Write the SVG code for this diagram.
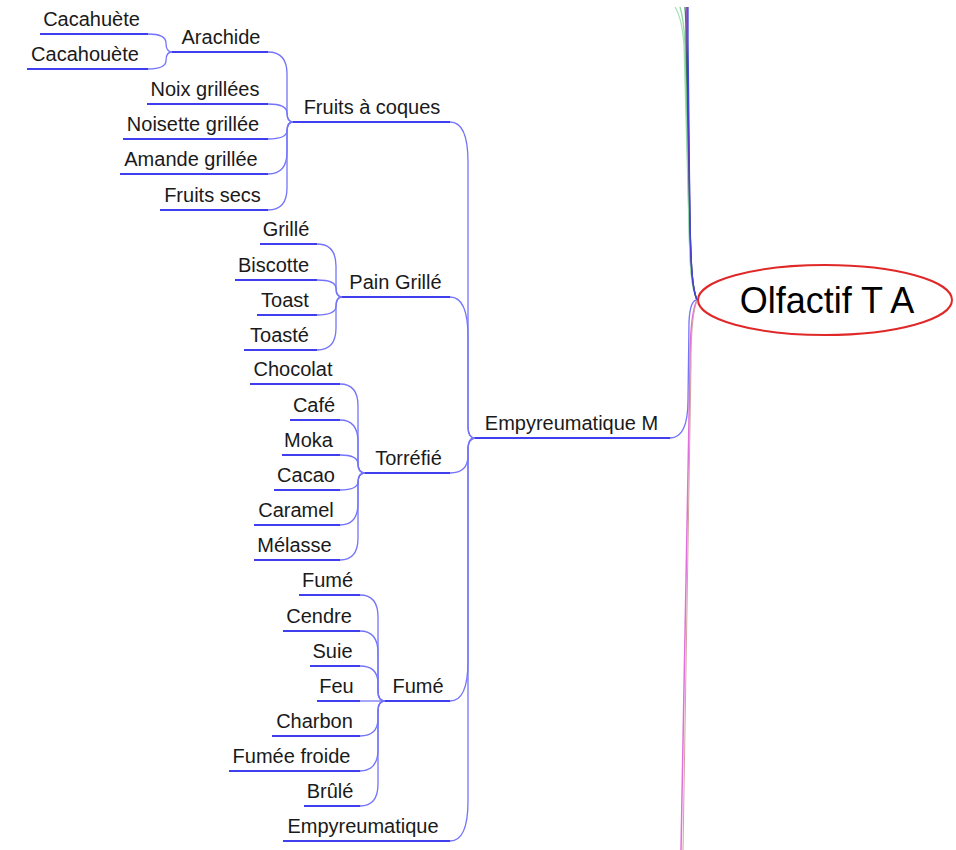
<svg xmlns="http://www.w3.org/2000/svg" width="956" height="850" viewBox="0 0 956 850">
<style>
.bg{fill:#ffffff}
.ul{stroke:#3f3ff0;stroke-width:2;fill:none}
.cv{stroke:#7474fa;stroke-width:1.3;fill:none}
text{font-family:"Liberation Sans",Arial,sans-serif;font-size:20px;fill:#1a1a1a;text-anchor:middle}
.root{font-size:36px;fill:#000}
</style>
<rect class="bg" x="0" y="0" width="956" height="850"/>
<g id="connectors">
  <!-- Arachide children -->
  <path class="cv" d="M148,34 Q166,34 166,43 Q166,52 172,52"/>
  <path class="cv" d="M148,69 Q166,69 166,60.5 Q166,52 172,52"/>
  <!-- Fruits à coques children -->
  <path class="cv" d="M268,52 Q287,52 287,74 L287,112 Q287,122 293,122"/>
  <path class="cv" d="M268,104 Q287,104 287,113 Q287,122 293,122"/>
  <path class="cv" d="M268,139 Q287,139 287,130.5 Q287,122 293,122"/>
  <path class="cv" d="M268,174 Q287,174 287,152 L287,132 Q287,122 293,122"/>
  <path class="cv" d="M268,210 Q287,210 287,188 L287,132 Q287,122 293,122"/>
  <!-- Pain Grillé children -->
  <path class="cv" d="M317,244 Q336,244 336,266 L336,287 Q336,297 342,297"/>
  <path class="cv" d="M317,280 Q336,280 336,288.5 Q336,297 342,297"/>
  <path class="cv" d="M317,315 Q336,315 336,306 Q336,297 342,297"/>
  <path class="cv" d="M317,350 Q336,350 336,328 L336,307 Q336,297 342,297"/>
  <!-- Torréfié children -->
  <path class="cv" d="M340,384 Q358,384 358,406 L358,463 Q358,473 365,473"/>
  <path class="cv" d="M340,420 Q358,420 358,442 L358,463 Q358,473 365,473"/>
  <path class="cv" d="M340,455 Q358,455 358,464 Q358,473 365,473"/>
  <path class="cv" d="M340,490 Q358,490 358,481.5 Q358,473 365,473"/>
  <path class="cv" d="M340,525 Q358,525 358,503 L358,483 Q358,473 365,473"/>
  <path class="cv" d="M340,560 Q358,560 358,538 L358,483 Q358,473 365,473"/>
  <!-- Fumé children -->
  <path class="cv" d="M360,595 Q378,595 378,617 L378,691 Q378,701 385,701"/>
  <path class="cv" d="M360,631 Q378,631 378,653 L378,691 Q378,701 385,701"/>
  <path class="cv" d="M360,666 Q378,666 378,683.5 L378,691 Q378,701 385,701"/>
  <path class="cv" d="M360,701 L385,701"/>
  <path class="cv" d="M360,736 Q378,736 378,718.5 L378,711 Q378,701 385,701"/>
  <path class="cv" d="M360,771 Q378,771 378,749 L378,711 Q378,701 385,701"/>
  <path class="cv" d="M360,806 Q378,806 378,784 L378,711 Q378,701 385,701"/>
  <!-- Empyreumatique M children -->
  <path class="cv" d="M450,122 Q468,122 468,162 L468,426 Q468,438 475,438"/>
  <path class="cv" d="M450,297 Q468,297 468,337 L468,426 Q468,438 475,438"/>
  <path class="cv" d="M450,473 Q468,473 468,455.5 L468,450 Q468,438 475,438"/>
  <path class="cv" d="M450,701 Q468,701 468,661 L468,450 Q468,438 475,438"/>
  <path class="cv" d="M450,841 Q468,841 468,801 L468,450 Q468,438 475,438"/>
  <!-- Empyreumatique M to root -->
  <path class="cv" d="M670,438 Q688,438 688,400 L689,322 Q690,300 697,300"/>
  <!-- other branches of root (cut off) -->
  <path d="M697,300 C691,288 690,265 689,225 L684,45 Q682,18 675,7" stroke="#a8e0b8" stroke-width="1.3" fill="none"/>
  <path d="M697,300 C691,288 690,265 689,225 L685,45 Q684,20 680,7" stroke="#90d8a8" stroke-width="1.3" fill="none"/>
  <path d="M697,300 C692,288 691,265 690,225 L686,40 Q686,20 685,7" stroke="#2a8a4a" stroke-width="1.3" fill="none"/>
  <path d="M697,300 C692,288 691,265 690,225 L687,40 L687,7" stroke="#6a2aa8" stroke-width="1.5" fill="none"/>
  <path d="M697,300 C692,288 691,265 690,225 L688,40 L688,7" stroke="#4646d8" stroke-width="1.3" fill="none"/>
  <path d="M697,300 C692,310 690,330 690,365 L681,850" stroke="#e070dc" stroke-width="1.5" fill="none"/>
  <path d="M697,300 C693,312 691,330 691,365 L683,850" stroke="#d4a0a0" stroke-width="1" fill="none"/>
</g>
<g id="n-root">
  <ellipse cx="825" cy="300" rx="127" ry="35" fill="#ffffff" stroke="#e02828" stroke-width="2"/>
  <text class="root" x="827" y="313">Olfactif T A</text>
</g>
<g id="n-empyreumatique-m">
  <line class="ul" x1="475" y1="438" x2="670" y2="438"/>
  <text x="571.5" y="430">Empyreumatique M</text>
</g>
<g id="n-fruits-a-coques">
  <line class="ul" x1="293" y1="122" x2="450" y2="122"/>
  <text x="372" y="114">Fruits à coques</text>
</g>
<g id="n-arachide">
  <line class="ul" x1="172" y1="52" x2="268" y2="52"/>
  <text x="221" y="44">Arachide</text>
</g>
<g id="n-cacahuete">
  <line class="ul" x1="40" y1="34" x2="148" y2="34"/>
  <text x="91.5" y="26">Cacahuète</text>
</g>
<g id="n-cacahouete">
  <line class="ul" x1="27" y1="69" x2="148" y2="69"/>
  <text x="85" y="61">Cacahouète</text>
</g>
<g id="n-noix">
  <line class="ul" x1="147" y1="104" x2="268" y2="104"/>
  <text x="205" y="96">Noix grillées</text>
</g>
<g id="n-noisette">
  <line class="ul" x1="123" y1="139" x2="268" y2="139"/>
  <text x="193" y="131">Noisette grillée</text>
</g>
<g id="n-amande">
  <line class="ul" x1="120" y1="174" x2="268" y2="174"/>
  <text x="191" y="166">Amande grillée</text>
</g>
<g id="n-fruits-secs">
  <line class="ul" x1="160" y1="210" x2="268" y2="210"/>
  <text x="212.5" y="202">Fruits secs</text>
</g>
<g id="n-pain-grille">
  <line class="ul" x1="342" y1="297" x2="450" y2="297"/>
  <text x="395.5" y="289">Pain Grillé</text>
</g>
<g id="n-grille">
  <line class="ul" x1="260" y1="244" x2="317" y2="244"/>
  <text x="286" y="236">Grillé</text>
</g>
<g id="n-biscotte">
  <line class="ul" x1="235" y1="280" x2="317" y2="280"/>
  <text x="273.5" y="272">Biscotte</text>
</g>
<g id="n-toast">
  <line class="ul" x1="257" y1="315" x2="317" y2="315"/>
  <text x="285" y="307">Toast</text>
</g>
<g id="n-toaste">
  <line class="ul" x1="244" y1="350" x2="317" y2="350"/>
  <text x="279.5" y="342">Toasté</text>
</g>
<g id="n-torrefie">
  <line class="ul" x1="365" y1="473" x2="450" y2="473"/>
  <text x="408.5" y="465">Torréfié</text>
</g>
<g id="n-chocolat">
  <line class="ul" x1="250" y1="384" x2="340" y2="384"/>
  <text x="293" y="376">Chocolat</text>
</g>
<g id="n-cafe">
  <line class="ul" x1="290" y1="420" x2="340" y2="420"/>
  <text x="314" y="412">Café</text>
</g>
<g id="n-moka">
  <line class="ul" x1="282" y1="455" x2="340" y2="455"/>
  <text x="308.5" y="447">Moka</text>
</g>
<g id="n-cacao">
  <line class="ul" x1="274" y1="490" x2="340" y2="490"/>
  <text x="306" y="482">Cacao</text>
</g>
<g id="n-caramel">
  <line class="ul" x1="254" y1="525" x2="340" y2="525"/>
  <text x="296" y="517">Caramel</text>
</g>
<g id="n-melasse">
  <line class="ul" x1="254" y1="560" x2="340" y2="560"/>
  <text x="294.5" y="552">Mélasse</text>
</g>
<g id="n-fume">
  <line class="ul" x1="385" y1="701" x2="450" y2="701"/>
  <text x="418" y="693">Fumé</text>
</g>
<g id="n-fume-leaf">
  <line class="ul" x1="299" y1="595" x2="360" y2="595"/>
  <text x="327.5" y="587">Fumé</text>
</g>
<g id="n-cendre">
  <line class="ul" x1="283" y1="631" x2="360" y2="631"/>
  <text x="319" y="623">Cendre</text>
</g>
<g id="n-suie">
  <line class="ul" x1="310" y1="666" x2="360" y2="666"/>
  <text x="332.5" y="658">Suie</text>
</g>
<g id="n-feu">
  <line class="ul" x1="317" y1="701" x2="360" y2="701"/>
  <text x="336.5" y="693">Feu</text>
</g>
<g id="n-charbon">
  <line class="ul" x1="272" y1="736" x2="360" y2="736"/>
  <text x="314.5" y="728">Charbon</text>
</g>
<g id="n-fumee-froide">
  <line class="ul" x1="229" y1="771" x2="360" y2="771"/>
  <text x="291.5" y="763">Fumée froide</text>
</g>
<g id="n-brule">
  <line class="ul" x1="304" y1="806" x2="360" y2="806"/>
  <text x="330" y="798">Brûlé</text>
</g>
<g id="n-empyreumatique">
  <line class="ul" x1="283" y1="841" x2="450" y2="841"/>
  <text x="363" y="833">Empyreumatique</text>
</g>
</svg>
